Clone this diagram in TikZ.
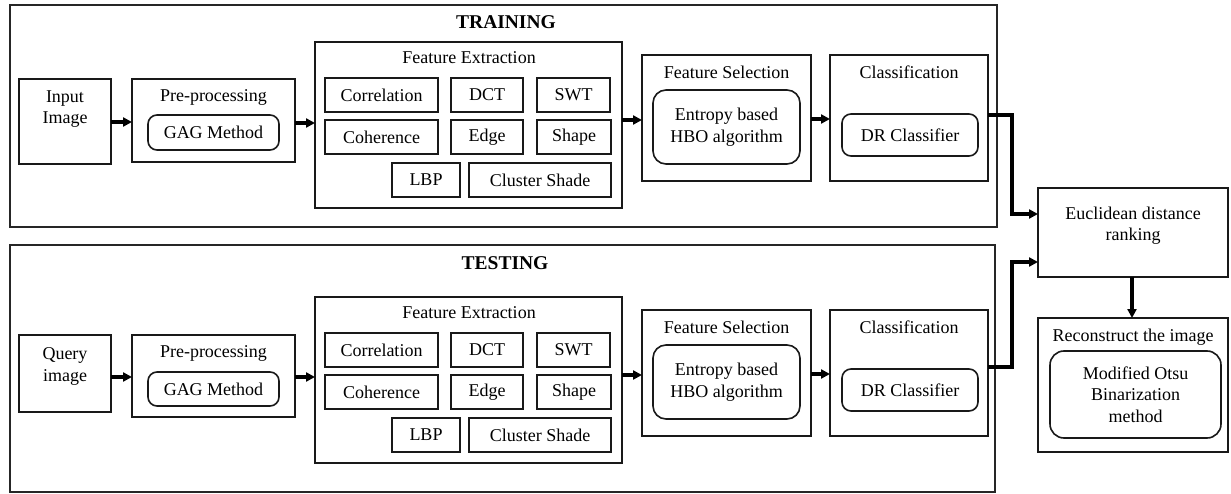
\documentclass[tikz,border=0pt]{standalone}
\usepackage{fontspec}
\setmainfont{Liberation Serif}
\usetikzlibrary{arrows.meta,calc}
\begin{document}
\begin{tikzpicture}[x=1pt,y=-1pt,
  every node/.style={font=\fontsize{18}{21.5}\selectfont, text=black},
  frame/.style={draw=black!85, line width=1.9pt, inner sep=0pt, outer sep=0pt},
  box/.style={draw=black!90, line width=1.6pt, inner sep=0pt, outer sep=0pt},
  rbox/.style={draw=black!90, line width=1.6pt, rounded corners=9pt, inner sep=0pt, outer sep=0pt, align=center},
  txt/.style={inner sep=0pt, align=center},
  ttl/.style={inner sep=0pt, font=\fontsize{19.5}{22}\selectfont\bfseries},
  conn/.style={line width=3.2pt, -{Triangle[length=9pt,width=9pt]}},
  elbow/.style={line width=3.2pt, -{Triangle[length=9pt,width=9pt]}}
]
\useasboundingbox (0,0) rectangle (1231,494);

% ================= TRAINING =================
\node[frame, minimum width=987pt, minimum height=222pt] (frT) at (503.5,116) {};
\node[ttl] (tT) at (506,22) {TRAINING};

\node[box, minimum width=92pt, minimum height=85pt] (inT) at (65,121.5) {};
\node[txt] (inTt) at (65,109) {Input\\Image};

\node[box, minimum width=163pt, minimum height=83pt] (preT) at (213.5,120.5) {};
\node[txt] (preTt) at (213.5,97) {Pre-processing};
\node[rbox, minimum width=131pt, minimum height=35pt] (gagT) at (213.5,132.5) {GAG Method};

\node[box, minimum width=307pt, minimum height=166pt] (feT) at (468.5,125) {};
\node[txt] (feTt) at (469,58) {Feature Extraction};
\node[box, minimum width=113pt, minimum height=34pt] (corT) at (381.5,95) {Correlation};
\node[box, minimum width=72pt, minimum height=34pt] (dctT) at (487,95) {DCT};
\node[box, minimum width=73pt, minimum height=34pt] (swtT) at (573.5,95) {SWT};
\node[box, minimum width=113pt, minimum height=34pt] (cohT) at (381.5,137) {Coherence};
\node[box, minimum width=72pt, minimum height=34pt] (edgT) at (487,137) {Edge};
\node[box, minimum width=74pt, minimum height=34pt] (shpT) at (574,137) {Shape};
\node[box, minimum width=68pt, minimum height=34pt] (lbpT) at (426,180) {LBP};
\node[box, minimum width=142pt, minimum height=34pt] (clsT) at (540,180) {Cluster Shade};

\node[box, minimum width=169pt, minimum height=126pt] (fsT) at (726.5,118) {};
\node[txt] (fsTt) at (726.5,72) {Feature Selection};
\node[rbox, minimum width=147pt, minimum height=74pt, rounded corners=13pt] (hboT) at (726.5,127) {Entropy based\\HBO algorithm};

\node[box, minimum width=158pt, minimum height=126pt] (cT) at (909,118) {};
\node[txt] (cTt) at (909,72) {Classification};
\node[rbox, minimum width=136pt, minimum height=42pt] (drT) at (910,135) {DR Classifier};

\draw[conn] (inT.east |- 0,122) -- (preT.west |- 0,122);
\draw[conn] (preT.east |- 0,123) -- (feT.west |- 0,123);
\draw[conn] (feT.east |- 0,120) -- (fsT.west |- 0,120);
\draw[conn] (fsT.east |- 0,119) -- (cT.west |- 0,119);

% ================= RIGHT SIDE =================
\node[box, minimum width=190pt, minimum height=89pt] (euc) at (1133,232.5) {};
\node[txt] (euct) at (1133,225.5) {Euclidean distance\\ranking};

\node[box, minimum width=190pt, minimum height=134pt] (rec) at (1133,385) {};
\node[txt] (rect) at (1133,337) {Reconstruct the image};
\node[rbox, minimum width=171pt, minimum height=87pt, rounded corners=14pt] (otsu) at (1135.5,394.5) {Modified Otsu\\Binarization\\method};

\coordinate (jx) at (1012,0);
\draw[elbow] ([yshift=3pt]cT.east) -- ([yshift=3pt]cT.east -| jx) |- ([yshift=18.5pt]euc.west);
\draw[conn] (euc.south -| 1132,0) -- (rec.north -| 1132,0);

% ================= TESTING =================
\node[frame, minimum width=985pt, minimum height=247pt] (frS) at (502.5,368.5) {};
\node[ttl] (tS) at (505,263) {TESTING};

\node[box, minimum width=92pt, minimum height=77pt] (inS) at (65,373.5) {};
\node[txt] (inSt) at (65,366.5) {Query\\image};

\node[box, minimum width=163pt, minimum height=82pt] (preS) at (213.5,376) {};
\node[txt] (preSt) at (213.5,353) {Pre-processing};
\node[rbox, minimum width=131pt, minimum height=34pt] (gagS) at (213.5,389) {GAG Method};

\node[box, minimum width=307pt, minimum height=166pt] (feS) at (468.5,380) {};
\node[txt] (feSt) at (469,313) {Feature Extraction};
\node[box, minimum width=113pt, minimum height=34pt] (corS) at (381.5,350) {Correlation};
\node[box, minimum width=72pt, minimum height=34pt] (dctS) at (487,350) {DCT};
\node[box, minimum width=73pt, minimum height=34pt] (swtS) at (573.5,350) {SWT};
\node[box, minimum width=113pt, minimum height=34pt] (cohS) at (381.5,392) {Coherence};
\node[box, minimum width=72pt, minimum height=34pt] (edgS) at (487,392) {Edge};
\node[box, minimum width=74pt, minimum height=34pt] (shpS) at (574,392) {Shape};
\node[box, minimum width=68pt, minimum height=34pt] (lbpS) at (426,435) {LBP};
\node[box, minimum width=142pt, minimum height=34pt] (clsS) at (540,435) {Cluster Shade};

\node[box, minimum width=169pt, minimum height=126pt] (fsS) at (726.5,373) {};
\node[txt] (fsSt) at (726.5,327) {Feature Selection};
\node[rbox, minimum width=147pt, minimum height=74pt, rounded corners=13pt] (hboS) at (726.5,382) {Entropy based\\HBO algorithm};

\node[box, minimum width=158pt, minimum height=126pt] (cS) at (909,373) {};
\node[txt] (cSt) at (909,327) {Classification};
\node[rbox, minimum width=136pt, minimum height=42pt] (drS) at (910,390) {DR Classifier};

\draw[conn] (inS.east |- 0,377) -- (preS.west |- 0,377);
\draw[conn] (preS.east |- 0,377) -- (feS.west |- 0,377);
\draw[conn] (feS.east |- 0,375) -- (fsS.west |- 0,375);
\draw[conn] (fsS.east |- 0,374) -- (cS.west |- 0,374);

\draw[elbow] ([yshift=6pt]cS.east) -- ([yshift=6pt]cS.east -| jx) |- ([yshift=-29.5pt]euc.west);
\end{tikzpicture}
\end{document}
